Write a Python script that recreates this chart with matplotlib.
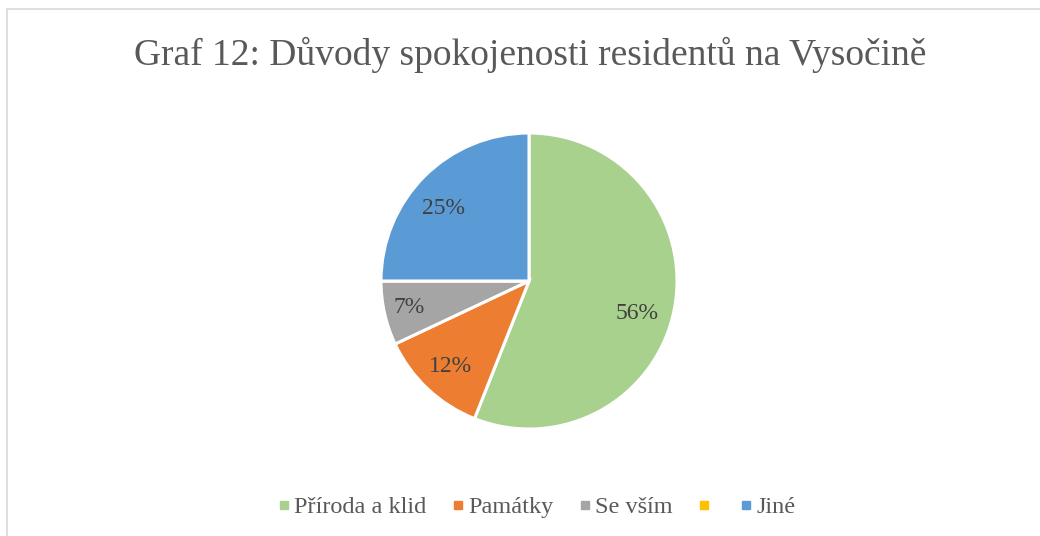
import matplotlib
matplotlib.use("Agg")
import matplotlib.pyplot as plt
from matplotlib.patches import Rectangle
from matplotlib.lines import Line2D

title = "Graf 12: Důvody spokojenosti residentů na Vysočině"
categories = ["Příroda a klid", "Památky", "Se vším", "", "Jiné"]
values = [56, 12, 7, 0, 25]
colors = ["#A9D18E", "#ED7D31", "#A5A5A5", "#FFC000", "#5B9BD5"]

plt.rcParams['font.family'] = ['Liberation Serif', 'DejaVu Serif']

W, H = 1040, 536
fig = plt.figure(figsize=(W / 100, H / 100), dpi=100)
fig.patch.set_facecolor("white")

# chart border
fig.add_artist(Rectangle((7 / W, -0.1), 1.2, 1 - 9 / H + 0.1, transform=fig.transFigure,
                         fill=False, edgecolor="#D9D9D9", linewidth=1.2))

cx, cy, r = 529, 281, 148
ax = fig.add_axes([(cx - r) / W, (H - cy - r) / H, 2 * r / W, 2 * r / H])


def fmt(p):
    return f"{p:.0f}%" if p >= 0.5 else ""


wedges, texts, autotexts = ax.pie(values, colors=colors, startangle=90, counterclock=False,
                                  autopct=fmt, pctdistance=0.8, radius=1,
                                  wedgeprops=dict(edgecolor="white", linewidth=2.2))
# label placement (Excel best-fit style), in axes units
label_xy = [(0.73, -0.22), (-0.53, -0.58), (-0.81, -0.18), None, (-0.58, 0.49)]
for t, xy in zip(autotexts, label_xy):
    t.set_fontsize(17)
    t.set_color("#404040")
    if xy is not None:
        t.set_position(xy)
ax.set_xlim(-1, 1)
ax.set_ylim(-1, 1)
ax.set_aspect("equal")
ax.axis("off")

fig.text(530 / W, 1 - 65 / H, title, ha="center", va="baseline", fontsize=27, color="#595959")

handles = [Line2D([0], [0], marker="s", linestyle="none", markersize=6,
                  markerfacecolor=c, markeredgecolor=c) for c in colors]
leg = fig.legend(handles, categories, loc="center", bbox_to_anchor=(536 / W, 1 - 507 / H),
                 ncol=5, frameon=False, fontsize=17.5, handletextpad=0.12, columnspacing=1.0,
                 handlelength=0.6)
for t in leg.get_texts():
    t.set_color("#595959")

fig.savefig("out.png", dpi=100, facecolor="white")
